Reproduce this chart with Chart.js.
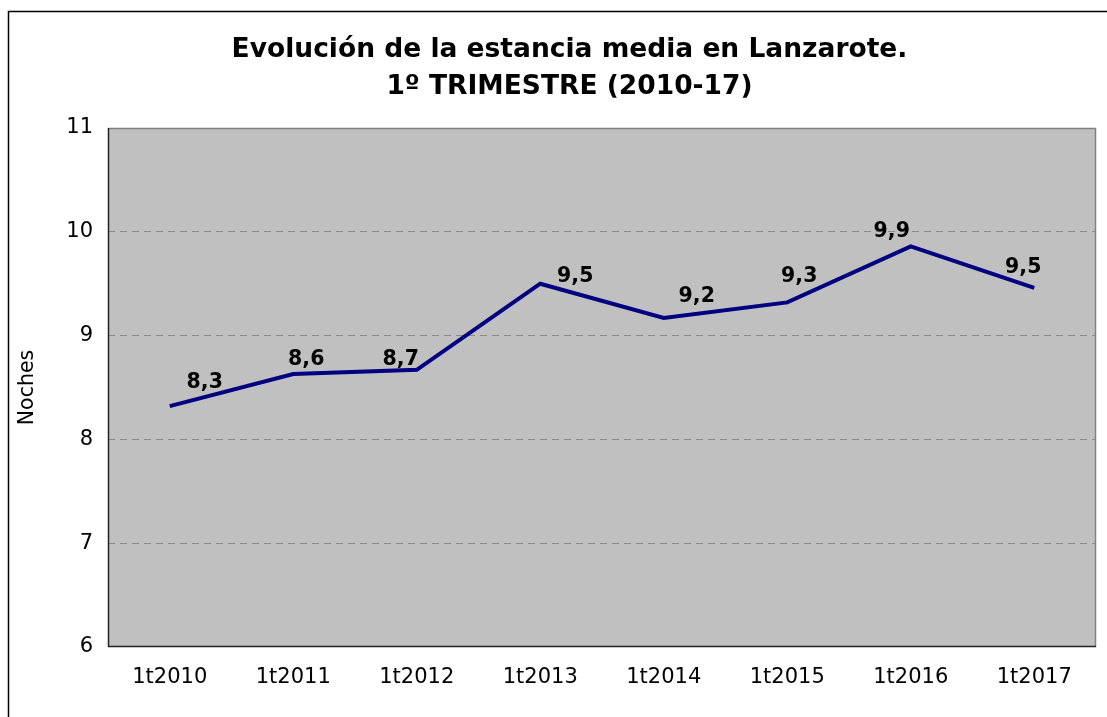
<!DOCTYPE html>
<html><head><meta charset="utf-8">
<script src="https://cdn.jsdelivr.net/npm/chart.js@4/dist/chart.umd.min.js"></script>
<style>html,body{margin:0;padding:0;background:#fff}canvas{display:block}</style>
</head><body>
<canvas id="c" width="1107" height="717"></canvas>
<script>
const categories = ['1t2010','1t2011','1t2012','1t2013','1t2014','1t2015','1t2016','1t2017'];
const nights = [8.32, 8.63, 8.67, 9.50, 9.17, 9.32, 9.86, 9.46];
const yTicks = [6, 7, 8, 9, 10, 11];
const titleLines = ['Evolución de la estancia media en Lanzarote.', '1º TRIMESTRE (2010-17)'];
const axisTitle = 'Noches';
const labelOffsets = [[35,-24],[13,-14],[-16,-10],[35,-7],[33,-21],[12,-26],[-19,-15],[-11,-20]];

const FONT = '"DejaVu Sans", Verdana, sans-serif';

const decor = {
  id: 'decor',
  beforeDraw(chart) {
    const ctx = chart.ctx, a = chart.chartArea;
    ctx.save();
    ctx.fillStyle = '#ffffff';
    ctx.fillRect(0, 0, chart.width, chart.height);
    ctx.strokeStyle = '#000000';
    ctx.lineWidth = 1.5;
    ctx.beginPath();
    ctx.moveTo(8.5, chart.height + 2);
    ctx.lineTo(8.5, 11.5);
    ctx.lineTo(chart.width + 5, 11.5);
    ctx.stroke();
    ctx.fillStyle = '#c0c0c0';
    ctx.fillRect(a.left, a.top, a.right - a.left, a.bottom - a.top);
    ctx.fillStyle = '#000000';
    ctx.font = 'bold 26.5px ' + FONT;
    ctx.textAlign = 'center';
    ctx.textBaseline = 'middle';
    ctx.fillText(titleLines[0], 569.5, 50);
    ctx.fillText(titleLines[1], 569.5, 87);
    ctx.restore();
  },
  beforeDatasetsDraw(chart) {
    const ctx = chart.ctx, a = chart.chartArea;
    ctx.save();
    ctx.strokeStyle = '#808080';
    ctx.lineWidth = 1.5;
    ctx.beginPath();
    ctx.moveTo(a.left, a.top + 0.5);
    ctx.lineTo(a.right - 0.5, a.top + 0.5);
    ctx.lineTo(a.right - 0.5, a.bottom);
    ctx.stroke();
    ctx.strokeStyle = '#222222';
    ctx.beginPath();
    ctx.moveTo(a.left + 0.5, a.top);
    ctx.lineTo(a.left + 0.5, a.bottom - 0.5);
    ctx.lineTo(a.right, a.bottom - 0.5);
    ctx.stroke();
    ctx.restore();
  },
  afterDatasetsDraw(chart) {
    const ctx = chart.ctx;
    const xs = chart.scales.x, ys = chart.scales.y;
    ctx.save();
    ctx.fillStyle = '#000000';
    ctx.font = 'bold 20.5px ' + FONT;
    ctx.textAlign = 'center';
    ctx.textBaseline = 'middle';
    nights.forEach((v, i) => {
      const px = xs.getPixelForValue(i), py = ys.getPixelForValue(v);
      const label = v.toFixed(1).replace('.', ',');
      ctx.fillText(label, px + labelOffsets[i][0], py + labelOffsets[i][1]);
    });
    ctx.restore();
  }
};

new Chart(document.getElementById('c'), {
  type: 'line',
  data: {
    labels: categories,
    datasets: [{
      data: nights,
      borderColor: '#000080',
      borderWidth: 4,
      pointRadius: 0,
      tension: 0,
      fill: false
    }]
  },
  options: {
    responsive: false,
    animation: false,
    layout: { padding: { top: 128, left: 0, right: 11, bottom: 0 } },
    plugins: { legend: { display: false }, title: { display: false }, tooltip: { enabled: false } },
    scales: {
      x: {
        offset: true,
        grid: { display: false },
        border: { display: false },
        ticks: { color: '#000', font: { family: FONT, size: 21 }, padding: 10, maxRotation: 0 },
        afterFit(s) { s.height = 70; }
      },
      y: {
        min: 6, max: 11,
        afterBuildTicks(s) { s.ticks = yTicks.map(v => ({ value: v })); },
        grid: {
          drawTicks: false,
          color: c => (c.tick && (c.tick.value === 6 || c.tick.value === 11)) ? 'rgba(0,0,0,0)' : '#8a8a8a',
          lineWidth: 1
        },
        border: { display: false, dash: [7, 5] },
        ticks: { color: '#000', font: { family: FONT, size: 21 }, padding: 15 },
        title: { display: true, text: axisTitle, color: '#000', font: { family: FONT, size: 20.5 }, padding: { top: 15, bottom: 0 } },
        afterFit(s) { s.width = 108; }
      }
    }
  },
  plugins: [decor]
});
</script>
</body></html>
